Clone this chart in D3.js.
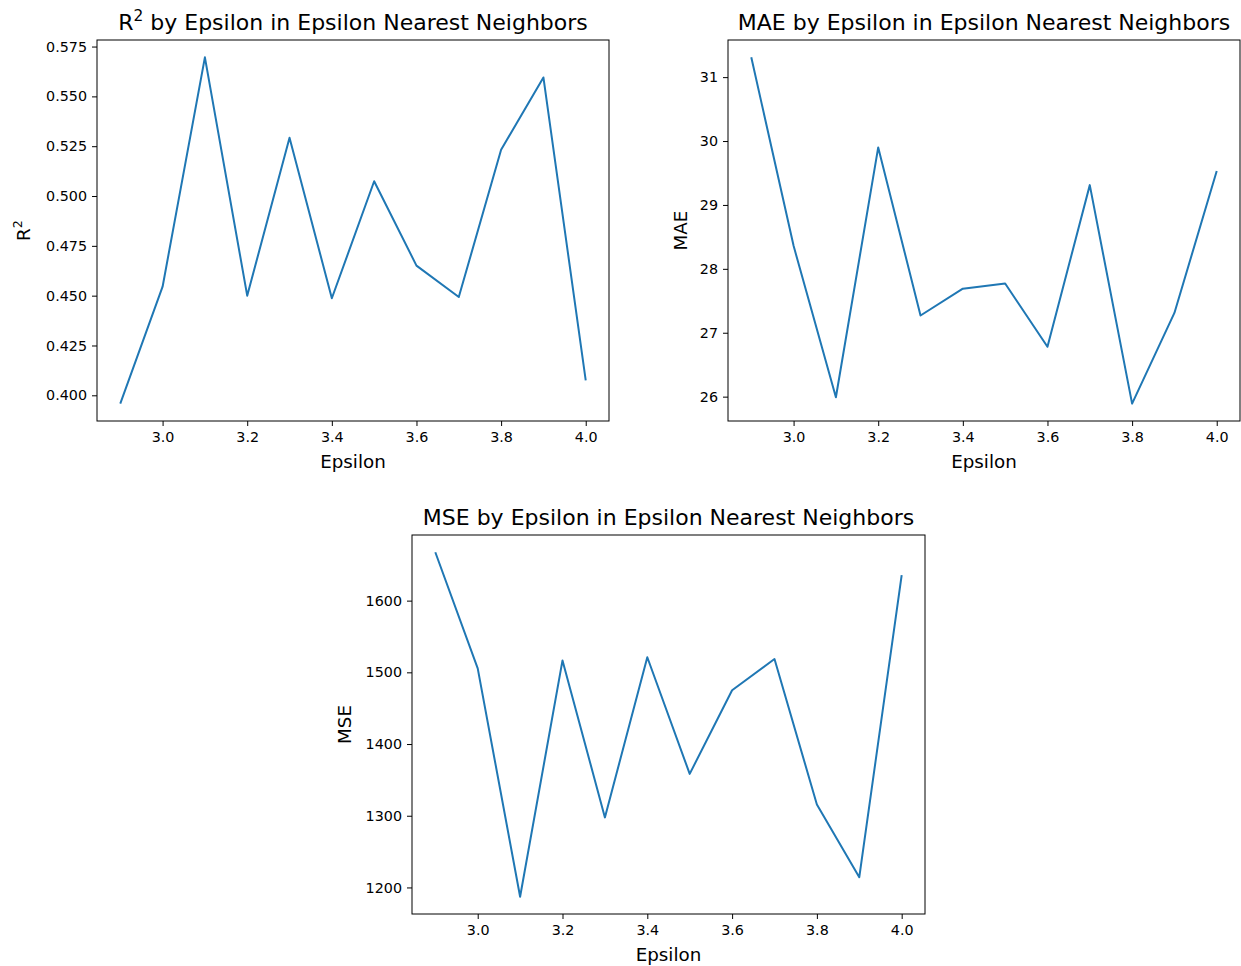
<!DOCTYPE html>
<html>
<head>
<meta charset="utf-8">
<script src="https://cdn.jsdelivr.net/npm/d3@7"></script>
<style>
  body { margin: 0; background: #fff; }
  svg text { font-family: "DejaVu Sans", sans-serif; fill: #000; }
</style>
</head>
<body>
<div id="chart"></div>
<script>
const epsilon = [2.9, 3.0, 3.1, 3.2, 3.3, 3.4, 3.5, 3.6, 3.7, 3.8, 3.9, 4.0];
const r2Values = [0.3958, 0.4545, 0.5696, 0.4500, 0.5292, 0.4487, 0.5074, 0.4651, 0.4493, 0.5232, 0.5595, 0.4075];
const maeValues = [31.31, 28.36, 25.99, 29.90, 27.27, 27.69, 27.77, 26.78, 29.31, 25.89, 27.31, 29.53];
const mseValues = [1667.5, 1505.5, 1187, 1516.6, 1297.7, 1521, 1358.4, 1475, 1518.5, 1315.7, 1214.3, 1635.6];

const xTicks = [3.0, 3.2, 3.4, 3.6, 3.8, 4.0];
const r2Ticks = [0.400, 0.425, 0.450, 0.475, 0.500, 0.525, 0.550, 0.575];
const maeTicks = [26, 27, 28, 29, 30, 31];
const mseTicks = [1200, 1300, 1400, 1500, 1600];

const W = 1241, H = 966;
const svg = d3.select('#chart')
  .append('svg')
  .attr('width', W)
  .attr('height', H);

// one panel per metric, box positions in page pixels
const panels = [
  { box: [97, 40, 609, 421], values: r2Values, ticks: r2Ticks, fmt: d3.format('.3f'),
    title: ['R', '2', ' by Epsilon in Epsilon Nearest Neighbors'], ylabel: ['R', '2'], labelX: 30 },
  { box: [728, 40, 1240, 421], values: maeValues, ticks: maeTicks, fmt: d3.format('d'),
    title: ['MAE by Epsilon in Epsilon Nearest Neighbors'], ylabel: ['MAE'], labelX: 687 },
  { box: [412, 535, 925, 914], values: mseValues, ticks: mseTicks, fmt: d3.format('d'),
    title: ['MSE by Epsilon in Epsilon Nearest Neighbors'], ylabel: ['MSE'], labelX: 351 }
];

const tickSize = 14.3, labelSize = 18.3, titleSize = 22;

function pad(ext) {
  const m = (ext[1] - ext[0]) * 0.05;
  return [ext[0] - m, ext[1] + m];
}

function addRich(sel, parts, size) {
  // parts: [base, superscript, rest]
  sel.append('tspan').text(parts[0]);
  if (parts.length > 1) {
    sel.append('tspan').attr('font-size', size * 0.7).attr('dy', -size * 0.42).text(parts[1]);
    if (parts.length > 2) sel.append('tspan').attr('dy', size * 0.42).text(parts[2]);
  }
}

panels.forEach(p => {
  const [x0, y0, x1, y1] = p.box;
  const x = d3.scaleLinear().domain(pad(d3.extent(epsilon))).range([x0, x1]);
  const y = d3.scaleLinear().domain(pad(d3.extent(p.values))).range([y1, y0]);
  const g = svg.append('g');

  g.append('path')
    .datum(p.values)
    .attr('fill', 'none')
    .attr('stroke', '#1f77b4')
    .attr('stroke-width', 2)
    .attr('stroke-linejoin', 'round')
    .attr('d', d3.line().x((d, i) => x(epsilon[i])).y(d => y(d)));

  g.append('rect')
    .attr('x', x0).attr('y', y0)
    .attr('width', x1 - x0).attr('height', y1 - y0)
    .attr('fill', 'none').attr('stroke', '#000').attr('stroke-width', 1);

  const xa = g.append('g')
    .attr('transform', `translate(0,${y1})`)
    .call(d3.axisBottom(x).tickValues(xTicks).tickFormat(d3.format('.1f')).tickSize(5).tickPadding(6));
  const ya = g.append('g')
    .attr('transform', `translate(${x0},0)`)
    .call(d3.axisLeft(y).tickValues(p.ticks).tickFormat(p.fmt).tickSize(5).tickPadding(5));
  [xa, ya].forEach(a => {
    a.select('.domain').remove();
    a.attr('font-size', tickSize).attr('font-family', '"DejaVu Sans", sans-serif');
    a.selectAll('line').attr('stroke', '#000');
  });

  const t = g.append('text')
    .attr('x', (x0 + x1) / 2).attr('y', y0 - 10)
    .attr('text-anchor', 'middle').attr('font-size', titleSize);
  addRich(t, p.title, titleSize);

  g.append('text')
    .attr('x', (x0 + x1) / 2).attr('y', y1 + 47)
    .attr('text-anchor', 'middle').attr('font-size', labelSize)
    .text('Epsilon');

  const yl = g.append('text')
    .attr('transform', `translate(${p.labelX},${(y0 + y1) / 2}) rotate(-90)`)
    .attr('text-anchor', 'middle').attr('font-size', labelSize);
  addRich(yl, p.ylabel, labelSize);
});
</script>
</body>
</html>
